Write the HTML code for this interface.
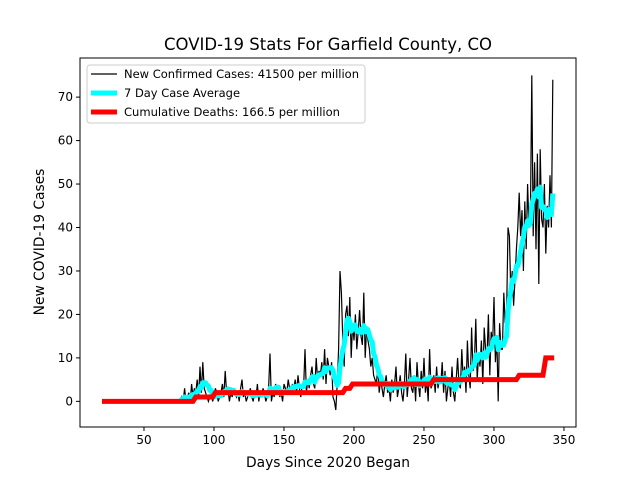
<!DOCTYPE html>
<html><head><meta charset="utf-8"><style>
body{margin:0;background:#fff}
text{font-family:"DejaVu Sans","Liberation Sans",sans-serif}
</style></head><body>
<svg id="c" width="640" height="480"></svg>
<script>
const startDay = 76;
const cases = [0,1,0,3,0,1,2,0,4,1, 3,2,5,1,8,2,9,3,2,1, 0,1,2,0,1,3,2,0,1,2, 4,1,7,2,3,0,2,1,3,2,
1,2,0,3,5,1,2,0,1,2, 3,1,0,2,1,4,0,2,1,3, 2,0,1,3,11,0,2,1,4,2, 3,1,2,0,4,3,2,5,3,2,
4,3,5,2,6,3,1,4,3,12, 2,5,3,6,8,4,3,10,5,7, 6,9,5,12,4,10,8,6,9,1, 0,-2,4,12,30,25,14,8,20,22,
15,24,10,18,14,20,12,16,21,15, 13,25,10,17,14,12,8,10,6,5, 4,8,2,5,3,1,4,6,2,3, 0,5,2,4,8,1,3,6,2,0,
4,11,1,5,10,3,2,6,0,9, 4,1,7,3,10,2,5,0,12,3, 4,6,2,8,3,5,4,9,2,7, 0,3,5,1,8,2,0,5,10,4,
3,12,5,8,2,14,6,3,17,7, 9,19,5,11,8,14,4,17,12,10, 20,6,16,13,24,9,15,0,18,12,
12,25,18,20,40,38,25,30,22,28, 35,40,48,38,44,30,46,35,50,40, 42,75,38,55,35,57,27,58,42,40,
50,34,45,40,52,40,74];
const deathSteps = [[20,0],[86,1],[100,2],[193,3],[198,4],[256,5],[317,6],[336,10],[342,10]];
const xTicks = [50,100,150,200,250,300,350];
const yTicks = [0,10,20,30,40,50,60,70];

const svg = document.getElementById('c');
const NS = 'http://www.w3.org/2000/svg';
const L=80,R=576,T=58,B=427;
const x = d => L + (d-4.3)/(358.6-4.3)*(R-L);
const y = v => B - (v+5.9)/(79+5.9)*(B-T);
function el(tag, attrs, parent){const e=document.createElementNS(NS,tag);for(const k in attrs)e.setAttribute(k,attrs[k]);(parent||svg).appendChild(e);return e;}
function txt(s, attrs){const e=el('text',attrs);e.textContent=s;return e;}

el('rect',{x:0,y:0,width:640,height:480,fill:'#fff'});
const g = el('g',{});



let pts = cases.map((v,i)=>x(startDay+i).toFixed(1)+','+y(v).toFixed(1)).join(' ');
const daily = el('polyline',{points:pts,fill:'none',stroke:'#000','stroke-width':1.2},g);



const avg = cases.map((v,i)=>{const s=cases.slice(Math.max(0,i-6),i+1);return s.reduce((a,b)=>a+b,0)/s.length;});
pts = avg.map((v,i)=>x(startDay+i).toFixed(1)+','+y(v).toFixed(1)).join(' ');
const avgL = el('polyline',{points:pts,fill:'none',stroke:'#00ffff','stroke-width':5,'stroke-linejoin':'round'},g);



let dp=[];
deathSteps.forEach((s,i)=>{ if(i>0) dp.push(x(s[0]-1)+','+y(deathSteps[i-1][1])); dp.push(x(s[0]+(i>0?1:0))+','+y(s[1])); });
const dl = el('polyline',{points:dp.join(' '),fill:'none',stroke:'#ff0000','stroke-width':5},g);



const fr = el('rect',{x:L,y:T,width:R-L,height:B-T,fill:'none',stroke:'#000','stroke-width':1});



xTicks.forEach(t=>{
  el('line',{x1:x(t),x2:x(t),y1:B,y2:B+4,stroke:'#000'});
  const tt = txt(t,{x:x(t),y:B+17,'text-anchor':'middle','font-size':12});
  
  
});
yTicks.forEach(t=>{
  el('line',{x1:L-4,x2:L,y1:y(t),y2:y(t),stroke:'#000'});
  const tt = txt(t,{x:L-7,y:y(t)+4,'text-anchor':'end','font-size':12});
  
  
});

const title = txt('COVID-19 Stats For Garfield County, CO',{x:328,y:50,'text-anchor':'middle','font-size':16.5});


const xt = txt('Days Since 2020 Began',{x:328,y:467,'text-anchor':'middle','font-size':13.8});


const yt = txt('New COVID-19 Cases',{x:0,y:0,'text-anchor':'middle','font-size':13.8,transform:'translate(44,242) rotate(-90)'});



const lg = el('g',{});


el('rect',{x:87,y:65,width:278,height:58,fill:'#fff',stroke:'#ccc',rx:3},lg);
const items=[['New Confirmed Cases: 41500 per million','#000',1.2,235],['7 Day Case Average','#00ffff',5,116],['Cumulative Deaths: 166.5 per million','#ff0000',5,216]];
items.forEach((it,i)=>{
  const yy=74+i*19;
  el('line',{x1:91,x2:117,y1:yy,y2:yy,stroke:it[1],'stroke-width':it[2]},lg);
  const t=el('text',{x:124,y:yy+4,'font-size':11.5,textLength:it[3],lengthAdjust:'spacingAndGlyphs'},lg); t.textContent=it[0];
  
  
});
</script>
</body></html>
